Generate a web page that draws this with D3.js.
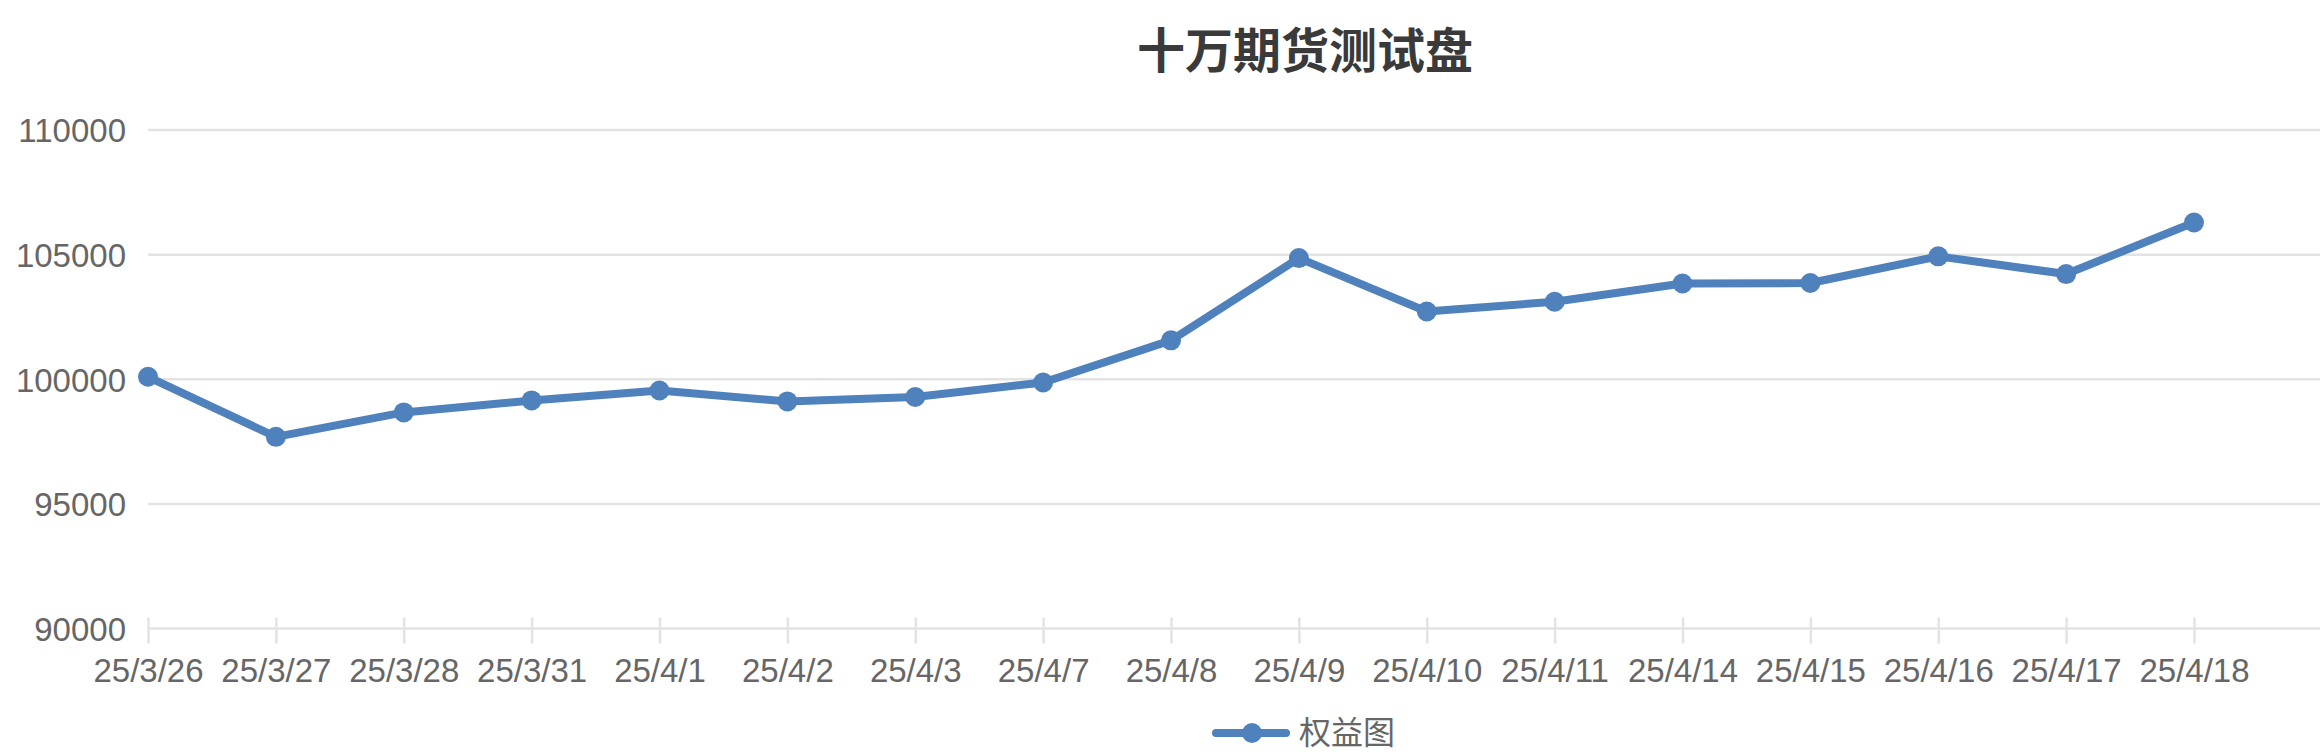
<!DOCTYPE html>
<html lang="zh">
  <head>
    <meta charset="UTF-8" />
    <title>十万期货测试盘</title>
    <script src="https://d3js.org/d3.v7.min.js"></script>
    <style>
      html, body { margin: 0; padding: 0; background: #fff; }
      svg { display: block; }
    </style>
  </head>
  <body>
    <div id="chart"></div>
    <script>
      // data
      const titleText = '十万期货测试盘';
      const seriesName = '权益图';
      const dates = ['25/3/26', '25/3/27', '25/3/28', '25/3/31', '25/4/1', '25/4/2', '25/4/3',
        '25/4/7', '25/4/8', '25/4/9', '25/4/10', '25/4/11', '25/4/14', '25/4/15',
        '25/4/16', '25/4/17', '25/4/18'];
      const equity = [100100, 97690, 98670, 99150, 99550, 99110, 99290, 99870, 101560,
        104860, 102720, 103110, 103840, 103860, 104930, 104220, 106290];
      const yTicks = [90000, 95000, 100000, 105000, 110000];

      const W = 2320, H = 754;
      const margin = { top: 130, left: 148, bottom: 125.5 };
      const plotBottom = H - margin.bottom;
      const lastPoint = 2194;        // x of the last category
      const axisEnd = W;             // axis keeps going past the last point
      const centerX = 1305;
      const lineColor = '#4f81bd';
      const labelColor = '#666';
      const gridColor = '#e3e3e3';
      const font = '"Liberation Sans", Arial, Helvetica, sans-serif';
      const cjk = '"Noto Sans CJK SC", sans-serif';

      const svg = d3.select('#chart')
        .append('svg')
          .attr('width', W)
          .attr('height', H);

      const x = d3.scalePoint()
        .domain(dates)
        .range([margin.left, lastPoint]);

      const y = d3.scaleLinear()
        .domain([90000, 110000])
        .range([plotBottom, margin.top]);

      // title
      svg.append('text')
        .attr('x', centerX)
        .attr('y', 68)
        .attr('text-anchor', 'middle')
        .style('font-family', cjk)
        .style('font-weight', 'bold')
        .style('font-size', '48px')
        .style('fill', '#3a3a3a')
        .text(titleText);

      // horizontal grid + y labels
      const yAxis = svg.append('g')
        .attr('transform', `translate(${margin.left},0)`)
        .call(d3.axisLeft(y).tickValues(yTicks).tickSize(0).tickPadding(22).tickFormat(d3.format('d')));
      yAxis.select('.domain').remove();
      yAxis.selectAll('text')
        .style('font-family', font)
        .style('font-size', '33px')
        .style('fill', labelColor)
        .attr('dy', '0.36em');

      svg.append('g')
        .selectAll('line')
        .data(yTicks)
        .join('line')
          .attr('x1', margin.left)
          .attr('x2', axisEnd)
          .attr('y1', d => y(d))
          .attr('y2', d => y(d))
          .attr('stroke', gridColor)
          .attr('stroke-width', 2.5);

      // x axis
      const xAxis = svg.append('g')
        .attr('transform', `translate(0,${plotBottom})`)
        .call(d3.axisBottom(x).tickSize(15).tickPadding(15));
      xAxis.select('.domain').remove();
      xAxis.selectAll('.tick line')
        .attr('y1', -11)
        .attr('stroke', gridColor)
        .attr('stroke-width', 2.5);
      xAxis.selectAll('text')
        .style('font-family', font)
        .style('font-size', '33px')
        .style('fill', labelColor);

      // line + points
      const line = d3.line()
        .x((d, i) => x(dates[i]))
        .y(d => y(d));

      svg.append('path')
        .datum(equity)
        .attr('d', line)
        .attr('fill', 'none')
        .attr('stroke', lineColor)
        .attr('stroke-width', 8)
        .attr('stroke-linejoin', 'round');

      svg.append('g')
        .selectAll('circle')
        .data(equity)
        .join('circle')
          .attr('cx', (d, i) => x(dates[i]))
          .attr('cy', d => y(d))
          .attr('r', 10)
          .attr('fill', lineColor);

      // legend (kept inside the bottom edge)
      const legendY = 733;
      const legend = svg.append('g');
      legend.append('line')
        .attr('x1', 1216)
        .attr('x2', 1286)
        .attr('y1', legendY)
        .attr('y2', legendY)
        .attr('stroke', lineColor)
        .attr('stroke-width', 8)
        .attr('stroke-linecap', 'round');
      legend.append('circle')
        .attr('cx', 1252)
        .attr('cy', legendY)
        .attr('r', 10)
        .attr('fill', lineColor);
      legend.append('text')
        .attr('x', 1299)
        .attr('y', legendY + 11)
        .style('font-family', cjk)
        .style('font-size', '32px')
        .style('fill', labelColor)
        .text(seriesName);
    </script>
  </body>
</html>
